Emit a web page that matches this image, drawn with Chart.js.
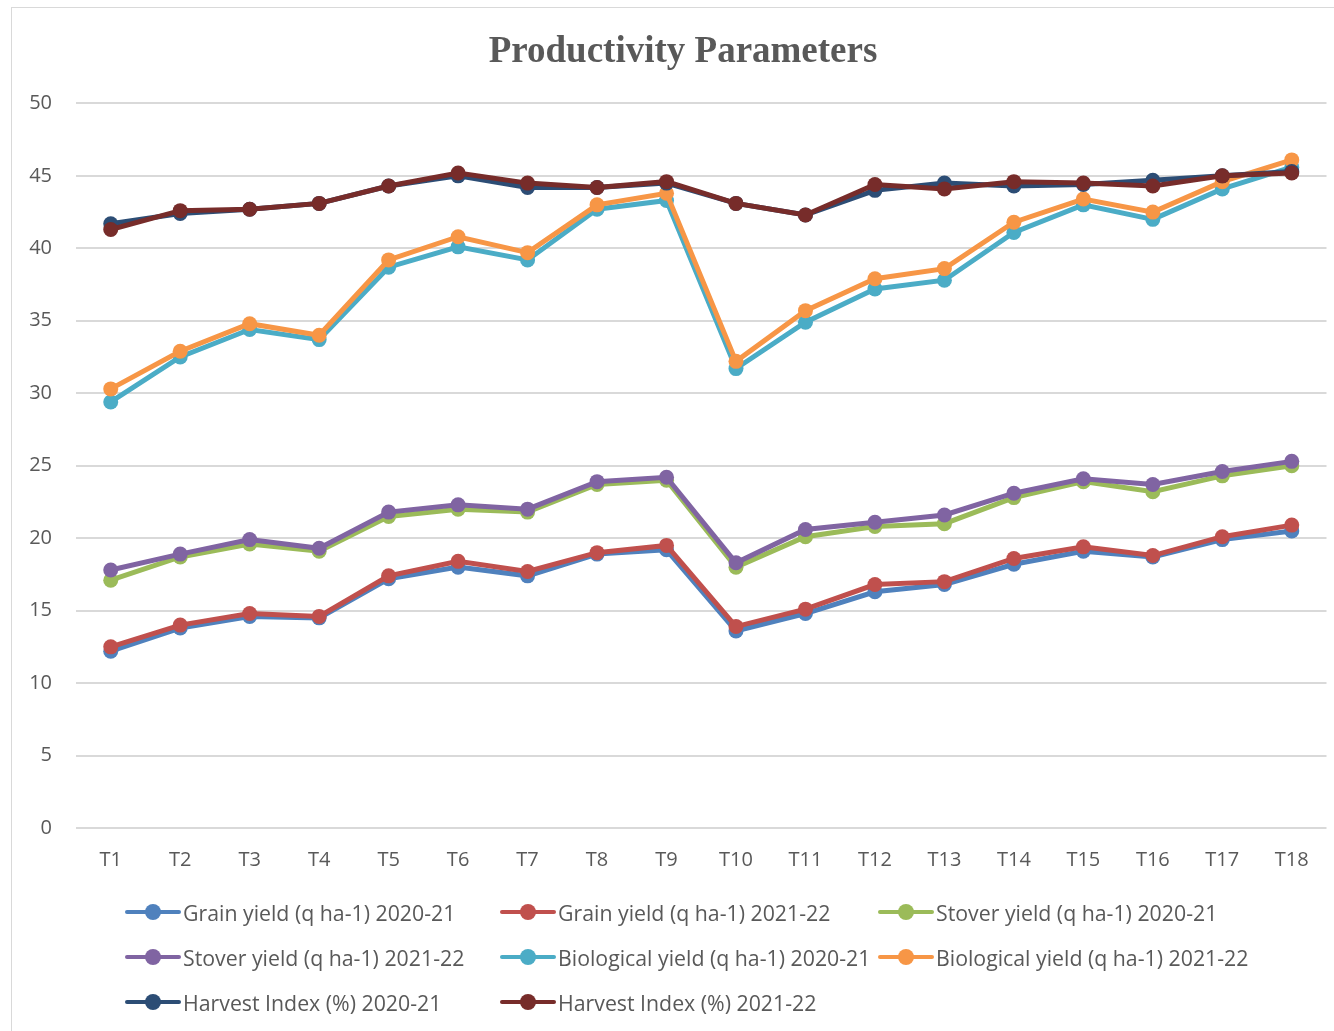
<!DOCTYPE html>
<html>
<head>
<meta charset="utf-8">
<script src="https://cdn.jsdelivr.net/npm/chart.js@4"></script>
<style>
  html, body { margin: 0; padding: 0; background: #fff; }
  body { width: 1334px; height: 1031px; position: relative; overflow: hidden; font-family: "Open Sans", sans-serif; }
  #frame { position: absolute; left: 11px; top: 7px; width: 1340px; height: 1040px; border: 1px solid #d9d9d9; box-sizing: border-box; }
  #wrap { position: absolute; left: 0; top: 0; width: 1334px; height: 880px; }
  #legend { position: absolute; left: 0; top: 0; width: 1334px; height: 1031px; pointer-events: none; }
  .item { position: absolute; display: flex; align-items: center; height: 30px; color: #595959; font-size: 21.3px; white-space: nowrap; }
  .sym { position: relative; width: 56px; height: 30px; margin-right: 2px; }
  .sym .ln { position: absolute; left: 0; right: 0; top: 13px; height: 4px; border-radius: 2px; }
  .sym .pt { position: absolute; left: 20px; top: 7px; width: 16px; height: 16px; border-radius: 50%; }
</style>
</head>
<body>
<div id="frame"></div>
<div id="wrap"><canvas id="c"></canvas></div>
<div id="legend"></div>
<script>
const categories = ["T1","T2","T3","T4","T5","T6","T7","T8","T9","T10","T11","T12","T13","T14","T15","T16","T17","T18"];
const seriesNames = [
  "Grain yield (q ha-1) 2020-21",
  "Grain yield (q ha-1) 2021-22",
  "Stover yield (q ha-1) 2020-21",
  "Stover yield (q ha-1) 2021-22",
  "Biological yield (q ha-1) 2020-21",
  "Biological yield (q ha-1) 2021-22",
  "Harvest Index (%) 2020-21",
  "Harvest Index (%) 2021-22"
];
const grain2021   = [12.2, 13.8, 14.6, 14.5, 17.2, 18.0, 17.4, 18.9, 19.2, 13.6, 14.8, 16.3, 16.8, 18.2, 19.1, 18.7, 19.9, 20.5];
const grain2122   = [12.5, 14.0, 14.8, 14.6, 17.4, 18.4, 17.7, 19.0, 19.5, 13.9, 15.1, 16.8, 17.0, 18.6, 19.4, 18.8, 20.1, 20.9];
const stover2021  = [17.1, 18.7, 19.6, 19.1, 21.5, 22.0, 21.8, 23.7, 24.0, 18.0, 20.1, 20.8, 21.0, 22.8, 23.9, 23.2, 24.3, 25.0];
const stover2122  = [17.8, 18.9, 19.9, 19.3, 21.8, 22.3, 22.0, 23.9, 24.2, 18.3, 20.6, 21.1, 21.6, 23.1, 24.1, 23.7, 24.6, 25.3];
const bio2021     = [29.4, 32.5, 34.4, 33.7, 38.7, 40.1, 39.2, 42.7, 43.3, 31.7, 34.9, 37.2, 37.8, 41.1, 43.0, 42.0, 44.1, 45.6];
const bio2122     = [30.3, 32.9, 34.8, 34.0, 39.2, 40.8, 39.7, 43.0, 43.8, 32.2, 35.7, 37.9, 38.6, 41.8, 43.4, 42.5, 44.6, 46.1];
const hi2021      = [41.7, 42.4, 42.7, 43.1, 44.3, 45.0, 44.2, 44.2, 44.5, 43.1, 42.3, 44.0, 44.5, 44.3, 44.4, 44.7, 45.0, 45.3];
const hi2122      = [41.3, 42.6, 42.7, 43.1, 44.3, 45.2, 44.5, 44.2, 44.6, 43.1, 42.3, 44.4, 44.1, 44.6, 44.5, 44.3, 45.0, 45.2];
const yTicks = [0, 5, 10, 15, 20, 25, 30, 35, 40, 45, 50];
const colors = ["#4F81BD", "#C0504D", "#9BBB59", "#8064A2", "#4BACC6", "#F79646", "#2C4D75", "#772C2A"];
const allSeries = [grain2021, grain2122, stover2021, stover2122, bio2021, bio2122, hi2021, hi2122];
const titleText = "Productivity Parameters";

const datasets = allSeries.map((d, i) => ({
  label: seriesNames[i],
  data: d,
  borderColor: colors[i],
  backgroundColor: colors[i],
  pointBackgroundColor: colors[i],
  pointBorderColor: colors[i],
  borderWidth: 5,
  pointRadius: 7.5,
  pointBorderWidth: 0,
  tension: 0,
  order: allSeries.length - i
}));

// shift the title block so it is centred on the chart frame rather than the canvas
const titleShift = {
  id: 'titleShift',
  afterLayout(chart) {
    if (chart.titleBlock) { chart.titleBlock.left += 39; }
  }
};

const axisFont = { family: "'Open Sans', sans-serif", size: 20 };
new Chart(document.getElementById('c'), {
  type: 'line',
  data: { labels: categories, datasets },
  plugins: [titleShift],
  options: {
    responsive: true,
    maintainAspectRatio: false,
    animation: false,
    layout: { padding: { left: 0, right: 7, top: 0, bottom: 0 } },
    plugins: {
      legend: { display: false },
      tooltip: { enabled: false },
      title: {
        display: true,
        text: titleText,
        color: '#595959',
        font: { family: "'Liberation Serif', 'Times New Roman', serif", size: 37, weight: 'bold', lineHeight: 1.2 },
        padding: { top: 30, bottom: 29 }
      }
    },
    scales: {
      x: {
        offset: true,
        grid: { display: false, drawTicks: false, offset: true },
        border: { display: false },
        ticks: { color: '#595959', font: axisFont, padding: 20, maxRotation: 0 },
        afterFit: (s) => { s.height = 52; }
      },
      y: {
        min: 0, max: 50,
        afterBuildTicks: (s) => { s.ticks = yTicks.map(v => ({ value: v })); },
        grid: { color: '#d9d9d9', lineWidth: 2, drawTicks: false },
        border: { display: false },
        ticks: { color: '#595959', font: axisFont, padding: 24 },
        afterFit: (s) => { s.width = 76; }
      }
    }
  }
});

// HTML legend (three columns, like the original)
const legend = document.getElementById('legend');
const colX = [125, 500, 878];
const rowY = [912, 957, 1002];
seriesNames.forEach((name, i) => {
  const r = Math.floor(i / 3), c = i % 3;
  const it = document.createElement('div');
  it.className = 'item';
  it.style.left = colX[c] + 'px';
  it.style.top = (rowY[r] - 15) + 'px';
  it.innerHTML = '<div class="sym"><div class="ln" style="background:' + colors[i] + '"></div><div class="pt" style="background:' + colors[i] + '"></div></div><span>' + name + '</span>';
  legend.appendChild(it);
});
</script>
</body>
</html>
